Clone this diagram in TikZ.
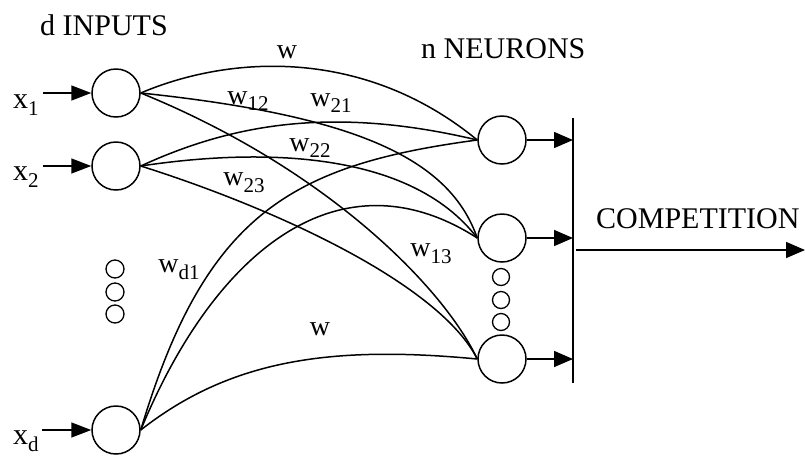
\documentclass[tikz,border=0pt]{standalone}
\usepackage{fontspec}
\setmainfont{Liberation Serif}
\usetikzlibrary{arrows.meta}
\newcommand{\lsub}[1]{\raisebox{-0.24em}{\fontsize{21}{21}\selectfont #1}}
\begin{document}
\begin{tikzpicture}[x=1pt,y=-1pt,
  neuron/.style={circle,draw,line width=1.5pt,minimum size=48pt,inner sep=0pt},
  dotc/.style={circle,draw,line width=1.3pt,minimum size=18pt,inner sep=0pt},
  conn/.style={line width=1.5pt},
  inarrow/.style={line width=1.5pt,-{Triangle[length=20pt,width=15pt]}},
  outarrow/.style={line width=1.5pt,-{Triangle[length=19pt,width=16pt]}},
  title/.style={font=\fontsize{30}{36}\selectfont,inner sep=0pt,anchor=base west},
  xlab/.style={font=\fontsize{30}{36}\selectfont,inner sep=0pt,anchor=base west},
  wlab/.style={font=\fontsize{28}{32}\selectfont,inner sep=0pt}]
\useasboundingbox (0,0) rectangle (805,456);

% titles
\node[title] (tin) at (40,35) {d INPUTS};
\node[title] (tneu) at (421,58) {n NEURONS};
\node[title] (tcomp) at (596,228) {COMPETITION};

% input neurons
\node[neuron] (i1) at (116,93) {};
\node[neuron] (i2) at (116,166) {};
\node[neuron] (id) at (116,430) {};
\node[dotc] (ld1) at (115,269) {};
\node[dotc] (ld2) at (115,292) {};
\node[dotc] (ld3) at (115,314) {};

% output neurons
\node[neuron] (n1) at (502,140) {};
\node[neuron] (n2) at (502,238) {};
\node[neuron] (n3) at (502,359) {};
\node[dotc,minimum size=17pt] (rd1) at (501,277) {};
\node[dotc,minimum size=17pt] (rd2) at (501,300) {};
\node[dotc,minimum size=17pt] (rd3) at (501,322) {};

% input labels and arrows
\node[xlab] (x1) at (13,108) {x\lsub{1}};
\node[xlab] (x2) at (13,180) {x\lsub{2}};
\node[xlab] (xd) at (13,444) {x\lsub{d}};
\coordinate (a1) at (43,93);
\coordinate (a2) at (43,166);
\coordinate (ad) at (42,430);
\draw[inarrow] (a1) -- (i1.west);
\draw[inarrow] (a2) -- (i2.west);
\draw[inarrow] (ad) -- (id.west);

% competition bar
\coordinate (bt) at (573,118);
\coordinate (bb) at (573,383);
\draw[conn] (bt) -- (bb);
\draw[outarrow] (n1.east) -- (n1.east -| bt);
\draw[outarrow] (n2.east) -- (n2.east -| bt);
\draw[outarrow] (n3.east) -- (n3.east -| bt);
\coordinate (cs) at (576,250);
\coordinate (ce) at (805,250);
\draw[outarrow] (cs) -- (ce);

% connections
\draw[conn] (i1.east) .. controls (230,55) and (364,47) .. (n1.west);
\draw[conn] (i1.east) .. controls (360,116) and (450,160) .. (n2.west);
\draw[conn] (i1.east) .. controls (330,170) and (445,290) .. (n3.west);
\draw[conn] (i2.east) .. controls (230,125) and (330,105) .. (n1.west);
\draw[conn] (i2.east) .. controls (260,148) and (410,150) .. (n2.west);
\draw[conn] (i2.east) .. controls (280,210) and (440,285) .. (n3.west);
\draw[conn] (id.east) .. controls (205,215) and (290,165) .. (n1.west);
\draw[conn] (id.east) .. controls (215,250) and (340,150) .. (n2.west);
\draw[conn] (id.east) .. controls (230,360) and (330,345) .. (n3.west);

% weight labels
\node[wlab] (lw1) at (287,52) {w};
\node[wlab] (lw12) at (248,101) {w\lsub{12}};
\node[wlab] (lw21) at (331,103) {w\lsub{21}};
\node[wlab] (lw22) at (310,148) {w\lsub{22}};
\node[wlab] (lw23) at (244,183) {w\lsub{23}};
\node[wlab] (lwd1) at (179,270) {w\lsub{d1}};
\node[wlab] (lw13) at (431,254) {w\lsub{13}};
\node[wlab] (lw2) at (320,329) {w};
\end{tikzpicture}
\end{document}
